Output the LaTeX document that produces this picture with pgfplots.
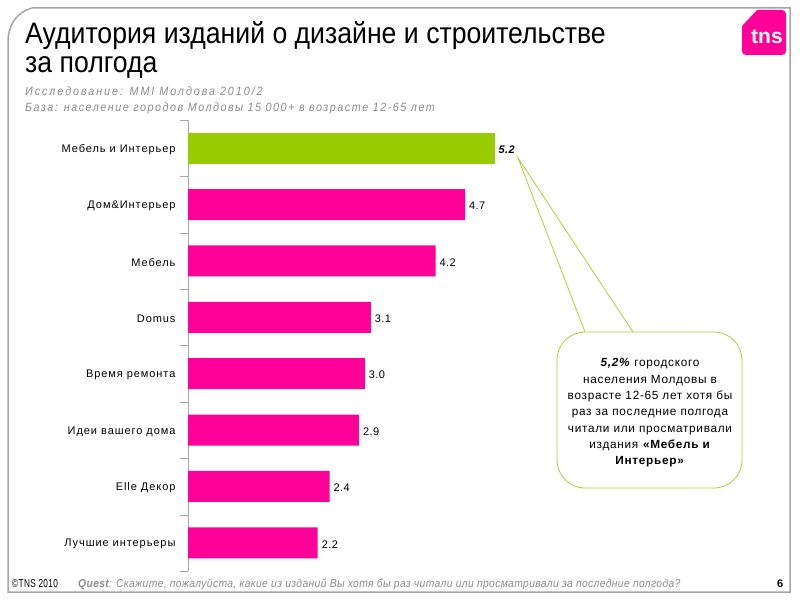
\documentclass[border=0pt]{standalone}
\usepackage{fontspec}
\setmainfont{Liberation Sans}
\newfontfamily\titlefont[FakeStretch=0.9]{Liberation Sans}
\newfontfamily\condfonta[FakeStretch=0.9,LetterSpace=16]{Liberation Sans}
\newfontfamily\condfont[FakeStretch=0.9,LetterSpace=12.5]{Liberation Sans}
\newfontfamily\tnsfont[FakeStretch=0.72,LetterSpace=3]{Liberation Sans}
\newfontfamily\footfont[FakeStretch=0.9,LetterSpace=3]{Liberation Sans}
\newfontfamily\spfont[LetterSpace=8.5]{Liberation Sans}
\newfontfamily\vfont[LetterSpace=4]{Liberation Sans}
\newfontfamily\cfont[LetterSpace=6]{Liberation Sans}
\usepackage{pgfplots}
\pgfplotsset{compat=1.18}
\definecolor{tnsmag}{HTML}{FF0099}
\definecolor{tnsgreen}{HTML}{99CC00}
\definecolor{callout}{HTML}{B5CC3A}
\definecolor{framec}{HTML}{A6A6A6}
\definecolor{subgray}{HTML}{8C8C8C}
\begin{document}
\begin{tikzpicture}[x=1pt,y=1pt]
\path[use as bounding box] (0,0) rectangle (800,600);
\fill[white] (0,0) rectangle (800,600);
% slide frame
\draw[framec, line width=1.5pt] (32,592) -- (790,592) -- (790,8) -- (8,8) -- (8,562) .. controls (10,578) and (18,588) .. (32,592);
% logo
\begin{scope}
\clip (0,0) rectangle (789,600);
\fill[tnsmag] (757,590) -- (782,590) to[out=0,in=90] (786,586) -- (786,549) to[out=-90,in=0] (782,545) -- (746,545) to[out=180,in=-90] (742,549) -- (742,574) -- cycle;
\node[anchor=base west, text=white, font=\bfseries\fontsize{21}{21}\selectfont, inner sep=0] at (751,556) {tns};
\end{scope}
% title
\node[anchor=base west, inner sep=0, font=\titlefont\fontsize{29.6}{29.6}\selectfont] at (25,556) {Аудитория изданий о дизайне и строительстве};
\node[anchor=base west, inner sep=0, font=\titlefont\fontsize{29.6}{29.6}\selectfont] at (25,527) {за полгода};
\node[anchor=base west, inner sep=0, text=subgray, font=\condfonta\itshape\fontsize{12}{12}\selectfont] at (25,504) {Исследование: MMI Молдова 2010/2};
\node[anchor=base west, inner sep=0, text=subgray, font=\condfont\itshape\fontsize{12}{12}\selectfont] at (25,488) {База: население городов Молдовы 15 000+ в возрасте 12-65 лет};
% footer
\node[anchor=base west, inner sep=0, font=\tnsfont\fontsize{11.5}{11.5}\selectfont] at (12,13) {©TNS 2010};
\node[anchor=base west, inner sep=0, text=subgray, font=\footfont\itshape\fontsize{11.5}{11.5}\selectfont] at (78,13) {\textbf{Quest}: Скажите, пожалуйста, какие из изданий Вы хотя бы раз читали или просматривали за последние полгода?};
\node[anchor=base west, inner sep=0, font=\bfseries\fontsize{11}{11}\selectfont] at (777,13) {6};
\begin{axis}[at={(188pt,480pt)}, anchor=north west, scale only axis,
  width=352pt, height=451pt,
  xmin=0, xmax=5.97, ymin=-0.5, ymax=7.5, y dir=reverse,
  xbar, bar width=31pt, bar shift=0pt,
  hide x axis, axis y line*=left,
  axis line style={framec},
  ytick={0,...,7},
  yticklabels={Мебель и Интерьер, Дом\&Интерьер, Мебель, Domus, Время ремонта, Идеи вашего дома, Elle Декор, Лучшие интерьеры},
  major tick length=0pt,
  minor ytick={-0.5,0.5,...,7.5}, minor tick length=8pt,
  tick align=outside, minor tick style={framec},
  yticklabel style={font=\spfont\fontsize{11}{13}\selectfont, xshift=-9pt, yshift=-1.5pt},
  nodes near coords,
  nodes near coords style={font=\vfont\fontsize{11}{13}\selectfont, yshift=-1.5pt, xshift=0.5pt},
  /pgf/number format/.cd, fixed, fixed zerofill, precision=1, assume math mode=true]
\addplot[fill=tnsgreen, draw=none, nodes near coords style={font=\vfont\bfseries\itshape\fontsize{11}{13}\selectfont}] coordinates {(5.2,0)};
\addplot[fill=tnsmag, draw=none] coordinates {(4.7,1) (4.2,2) (3.1,3) (3.0,4) (2.9,5) (2.4,6) (2.2,7)};
\end{axis}
% callout
\draw[callout, line width=0.8pt, fill=white, rounded corners=28pt] (557,112) rectangle (742,268);
\fill[white] (585,269.5) -- (518,442) -- (633,269.5) -- cycle;
\draw[callout, line width=0.8pt] (585,268) -- (518,442) -- (633,268);
\node[align=center, font=\cfont\fontsize{11.8}{16.3}\selectfont, inner sep=0] at (650,187) {\textbf{\textit{5,2\%}} городского\\населения Молдовы в\\возрасте 12-65 лет хотя бы\\раз за последние полгода\\читали или просматривали\\издания \textbf{«Мебель и}\\\textbf{Интерьер»}};
\end{tikzpicture}
\end{document}
